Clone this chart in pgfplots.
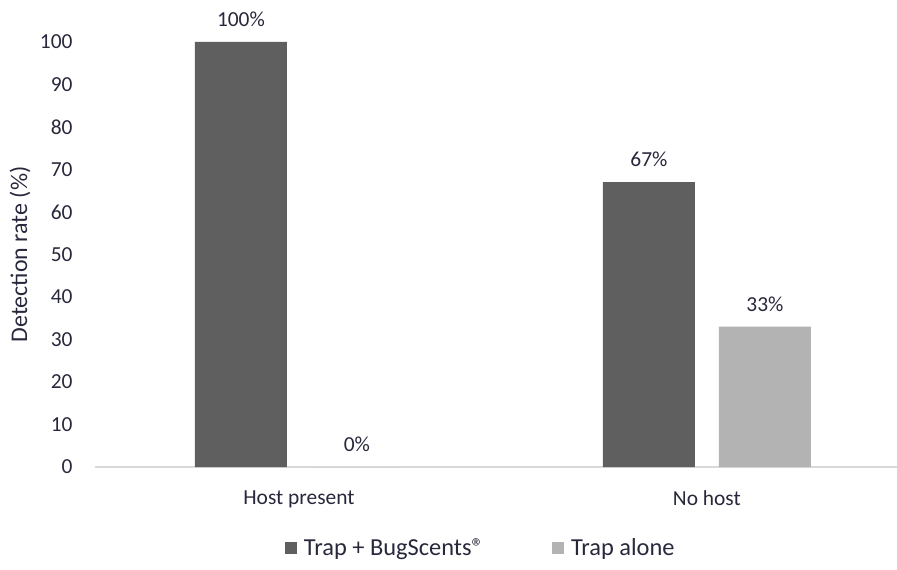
\documentclass[border=0pt]{standalone}
\usepackage{pgfplots}
\pgfplotsset{compat=1.18}
\usepackage{fontspec}
\setmainfont{Carlito}
\definecolor{txt}{RGB}{40,40,60}
\definecolor{darkbar}{RGB}{95,95,95}
\definecolor{lightbar}{RGB}{179,179,179}
\definecolor{axisgray}{RGB}{217,217,217}
\begin{document}
\begin{tikzpicture}
\useasboundingbox (0,0) rectangle (897bp,570bp);
\begin{axis}[
  at={(95bp,103bp)}, anchor=south west,
  scale only axis, width=802bp, height=425bp,
  xmin=-0.5, xmax=1.466, ymin=0, ymax=100,
  clip=false,
  ybar=24bp, bar width=92bp,
  axis x line*=bottom, axis y line*=left,
  y axis line style={draw=none},
  x axis line style={draw=axisgray, line width=1.3bp},
  xtick={0,1}, xticklabels={Host present, No host},
  ytick={0,10,...,100},
  major tick length=0pt,
  font=\fontsize{21.5}{25}\selectfont,
  every tick label/.append style={text=txt},
  /pgf/number format/assume math mode=true,
  yticklabel style={xshift=-19bp},
  xticklabel style={yshift=-20bp},
  ylabel={Detection rate (\%)},
  ylabel style={at={(axis description cs:-0.0935,0.5)}, anchor=center, text=txt, font=\fontsize{24}{28}\selectfont},
  nodes near coords={\pgfmathprintnumber{\pgfplotspointmeta}\%},
  nodes near coords style={text=txt, yshift=12bp},
  legend columns=2,
  legend style={at={(axis description cs:0.481,-0.19)}, anchor=center, draw=none, text=txt, fill=none,
    font=\fontsize{24.5}{28}\selectfont,
    /tikz/every even column/.append style={column sep=66bp}},
  legend image code/.code={\fill[#1] (0bp,-6bp) rectangle (12bp,6bp); \path (17bp,0bp);},
]
\addplot[fill=darkbar, draw=none] coordinates {(0,100) (1,67)};
\addplot[fill=lightbar, draw=none] coordinates {(0,0) (1,33)};
\legend{Trap + BugScents®, Trap alone}
\end{axis}
\end{tikzpicture}
\end{document}
